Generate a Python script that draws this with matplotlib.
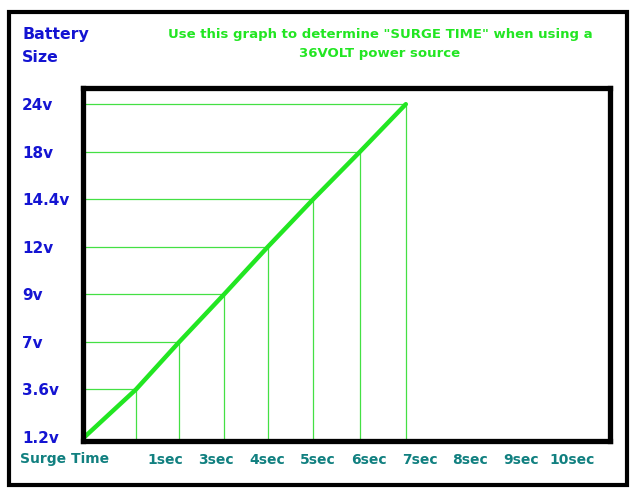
import matplotlib.pyplot as plt
from matplotlib.patches import Rectangle

# battery sizes (y categories, bottom to top)
batteries = ['1.2v', '3.6v', '7v', '9v', '12v', '14.4v', '18v', '24v']
# where each battery meets the line, in x-label slots (1sec label = slot 1)
surge_slot = [-0.58, 0.43, 1.28, 2.16, 3.02, 3.91, 4.83, 5.73]
time_labels = ['1sec', '3sec', '4sec', '5sec', '6sec', '7sec', '8sec', '9sec', '10sec']

green = '#22e622'
guide = '#44e044'
blue = '#1414d2'
teal = '#118080'

fig = plt.figure(figsize=(6.34, 4.96), dpi=100)
ax = fig.add_axes([83/634, 1-441/496, (610-83)/634, (441-88)/496])

xmin, xmax = -0.61, 9.74
ymin, ymax = -0.084, 7.34
ax.set_xlim(xmin, xmax)
ax.set_ylim(ymin, ymax)

lev = list(range(len(batteries)))

# guide lines
ax.hlines(lev[1:], xmin, surge_slot[1:], color=guide, lw=0.9, zorder=1)
ax.vlines(surge_slot[1:], ymin, lev[1:], color=guide, lw=0.9, zorder=1)

# main line
ax.plot(surge_slot, lev, color=green, lw=3.2, solid_capstyle='round', zorder=2)

for s in ['top', 'bottom', 'right', 'left']:
    ax.spines[s].set_linewidth(3.8)
    ax.spines[s].set_color('black')

ax.set_yticks(lev)
ax.set_yticklabels(batteries, fontsize=11, fontweight='bold', color=blue,
                   ha='left')
ax.tick_params(axis='y', length=0, pad=44)
ax.set_xticks(range(1, len(time_labels)+1))
ax.set_xticklabels(time_labels, fontsize=10, fontweight='bold', color=teal)
ax.tick_params(axis='x', length=0, pad=8.5)

fig.text(20/634, 1-459/496, 'Surge Time', fontsize=10, fontweight='bold',
         color=teal, ha='left', va='center')

fig.text(22/634, 1-35/496, 'Battery', fontsize=11.3, fontweight='bold',
         color=blue, ha='left', va='center')
fig.text(22/634, 1-58/496, 'Size', fontsize=11.3, fontweight='bold',
         color=blue, ha='left', va='center')

fig.text(380/634, 1-44/496,
         'Use this graph to determine "SURGE TIME" when using a\n36VOLT power source',
         fontsize=9.5, fontweight='bold', color=green, ha='center', va='center',
         linespacing=1.6)

# outer border
fig.patches.append(Rectangle((9/634, 1-485/496), (627-9)/634, (485-12)/496,
                             transform=fig.transFigure, fill=False,
                             edgecolor='black', lw=3.0))

fig.savefig('out.png', dpi=100)
